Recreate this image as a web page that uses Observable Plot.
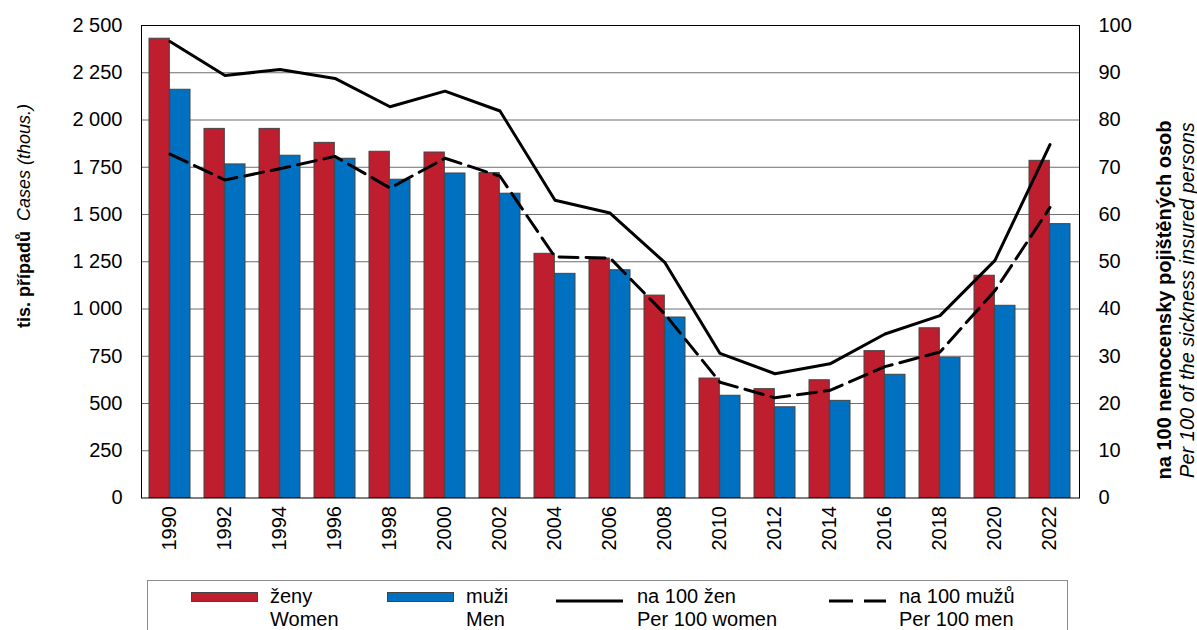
<!DOCTYPE html>
<html><head><meta charset="utf-8">
<script src="https://cdn.jsdelivr.net/npm/d3@7"></script>
<script src="https://cdn.jsdelivr.net/npm/@observablehq/plot@0.6"></script>
<style>
body{margin:0;background:#fff;font-family:"Liberation Sans",Arial,sans-serif;color:#000;}
#wrap{position:relative;width:1197px;height:630px;overflow:hidden;background:#fff;}
#chart{position:absolute;left:0;top:0;}
.rot{position:absolute;white-space:nowrap;text-align:center;transform:translate(-50%,-50%) rotate(-90deg);}
.leg{position:absolute;left:147px;top:580px;width:921px;height:80px;border:1px solid #8c8c8c;box-sizing:border-box;}
.sw{position:absolute;height:10px;box-sizing:border-box;border:1px solid #444;}
.lt{position:absolute;font-size:20px;line-height:23px;white-space:nowrap;}
.ln{position:absolute;}
</style></head>
<body><div id="wrap"><div id="chart"></div></div>
<script>
const years = [1990,1992,1994,1996,1998,2000,2002,2004,2006,2008,2010,2012,2014,2016,2018,2020,2022];
const women = [2430,1953,1953,1879,1832,1828,1719,1292,1267,1071,632,576,623,777,898,1176,1784];
const men = [2160,1765,1811,1795,1684,1717,1610,1186,1205,955,541,480,514,652,742,1017,1449];
const womenRate = [96.6,89.4,90.7,88.8,82.8,86.1,81.9,63.0,60.3,49.8,30.6,26.3,28.4,34.7,38.6,50.3,74.8];
const menRate = [72.8,67.3,69.7,72.3,65.6,71.9,68.1,51.0,50.8,38.9,24.5,21.2,22.8,27.8,30.9,43.9,61.5];
const leftTicks = d3.range(0, 2501, 250);
const rightTicks = d3.range(0, 101, 10);
const legendLabels = [["ženy","Women"],["muži","Men"],["na 100 žen","Per 100 women"],["na 100 mužů","Per 100 men"]];

const RATIO = 2500 / 100;
const RED = "#BE1E2D", BLUE = "#0070C0";
const W = 1197, H = 578, ML = 141, MR = 118, MT = 25, MB = H - 497.5;
const step = (W - ML - MR) / years.length;
const half = step * 0.75 / 2;
const rows = years.map((y, i) => ({year: String(y), women: women[i], men: men[i], wr: womenRate[i] * RATIO, mr: menRate[i] * RATIO}));
const fmt = d3.formatLocale({thousands: " ", grouping: [3], decimal: ","}).format(",");

const chart = Plot.plot({
  width: W, height: H, marginLeft: ML, marginRight: MR, marginTop: MT, marginBottom: MB,
  style: {fontFamily: "Liberation Sans, Arial, sans-serif", fontSize: "20px", color: "#000", background: "#fff"},
  x: {type: "band", domain: years.map(String), paddingInner: 0.25, paddingOuter: 0.125, align: 0.5},
  y: {domain: [0, 2500]},
  marks: [
    Plot.gridY(leftTicks.slice(1, -1), {stroke: "#6e6e6e", strokeOpacity: 1}),
    Plot.barY(rows, {x: "year", y: "women", fill: RED, stroke: "#444", strokeWidth: 1, insetRight: half}),
    Plot.barY(rows, {x: "year", y: "men", fill: BLUE, stroke: "#444", strokeWidth: 1, insetLeft: half}),
    Plot.lineY(rows, {x: "year", y: "wr", stroke: "#000", strokeWidth: 3}),
    Plot.lineY(rows, {x: "year", y: "mr", stroke: "#000", strokeWidth: 3, strokeDasharray: "19,8"}),
    Plot.frame({stroke: "#000"}),
    Plot.axisY(leftTicks, {anchor: "left", tickSize: 0, tickPadding: 19, tickFormat: fmt, label: null}),
    Plot.axisY(rightTicks.map(d => d * RATIO), {anchor: "right", tickSize: 0, tickPadding: 19, tickFormat: d => d / RATIO, label: null}),
    Plot.axisX({tickRotate: -90, tickSize: 0, tickPadding: 8, label: null})
  ]
});
const wrap = document.getElementById("wrap");
document.getElementById("chart").appendChild(chart);

function add(html, cls, styleStr) {
  const d = document.createElement("div");
  d.className = cls; d.setAttribute("style", styleStr); d.innerHTML = html;
  wrap.appendChild(d); return d;
}
add("<b>tis. případů</b>&nbsp;&nbsp;<i>Cases (thous.)</i>", "rot", "left:24px;top:216px;font-size:18px;");
add("<b>na 100 nemocensky pojištěných osob</b><br><i>Per 100 of the sickness insured persons</i>", "rot", "left:1176px;top:300px;font-size:20px;line-height:23px;");

add("", "leg", "");
add("", "sw", `left:191px;top:592px;width:67px;background:${RED};`);
add("", "sw", `left:387px;top:592px;width:67px;background:${BLUE};`);
add('<svg width="67" height="10"><line x1="0" x2="67" y1="5" y2="5" stroke="#000" stroke-width="3"/></svg>', "ln", "left:556px;top:592px;");
add('<svg width="57" height="10"><line x1="0" x2="57" y1="5" y2="5" stroke="#000" stroke-width="3" stroke-dasharray="24,11"/></svg>', "ln", "left:829px;top:592px;");
const lx = [270, 466, 637, 899];
legendLabels.forEach((l, i) => add(l[0] + "<br>" + l[1], "lt", `left:${lx[i]}px;top:585px;`));
</script>
</body></html>
